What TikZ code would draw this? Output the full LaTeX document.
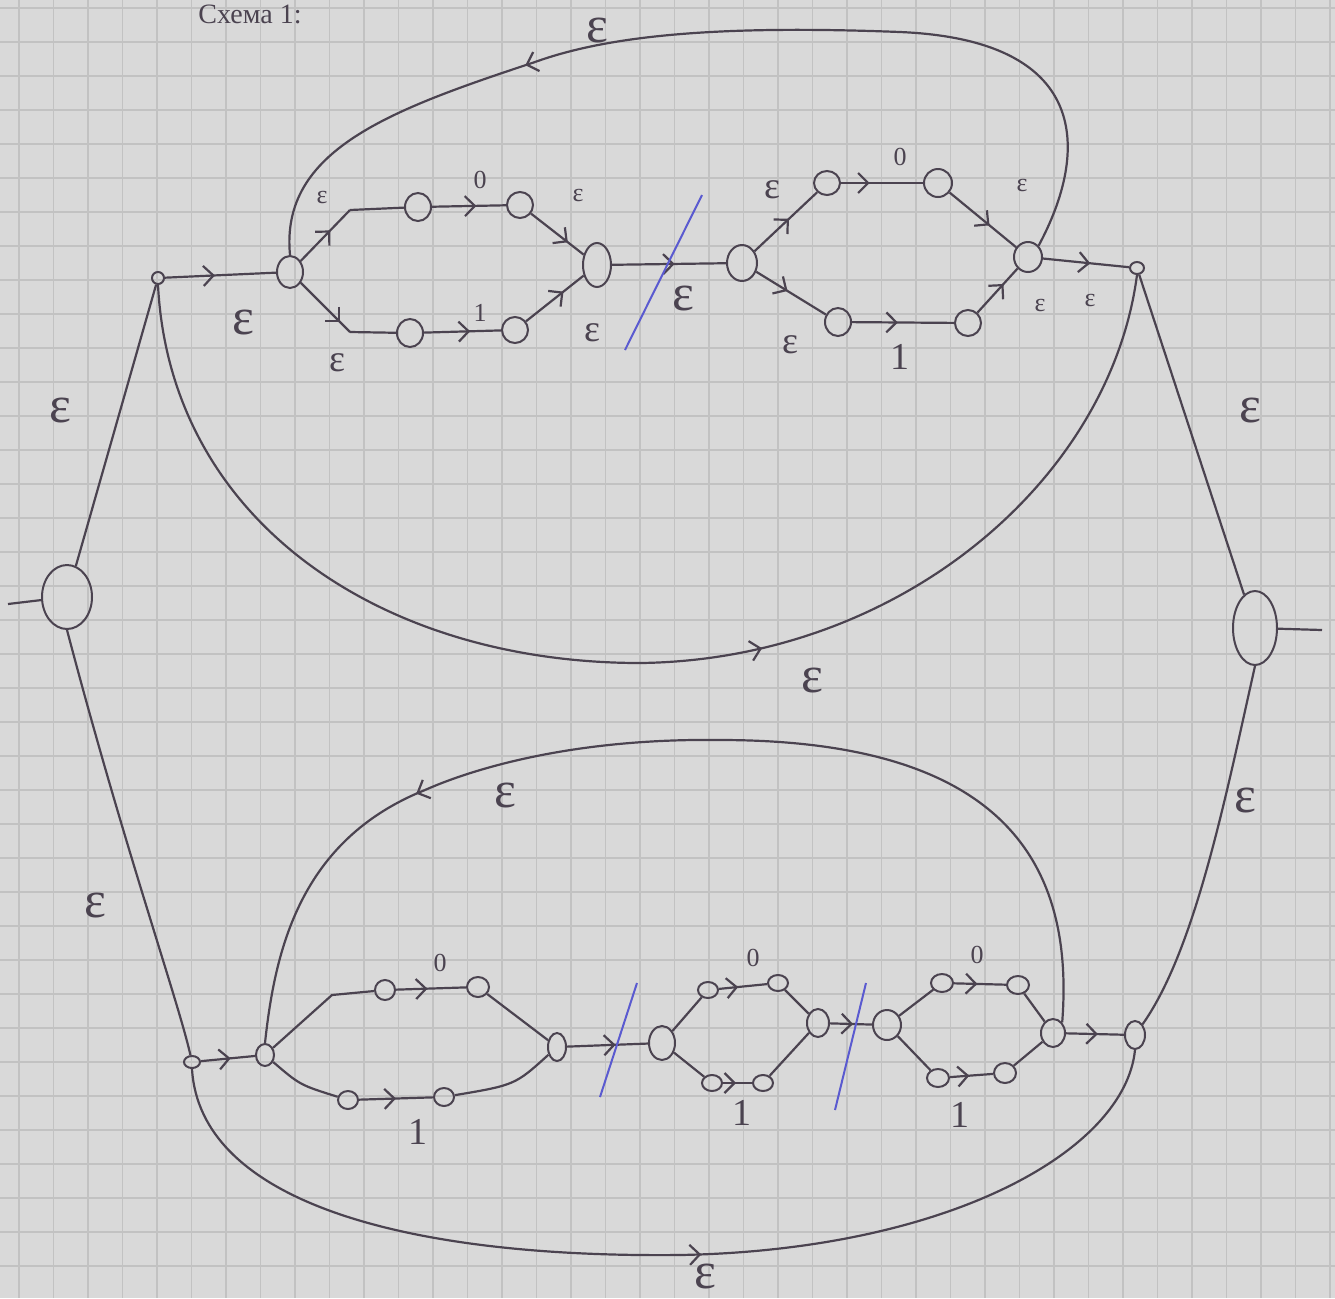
\documentclass[tikz,border=0pt]{standalone}
\usepackage{fontspec}
\setmainfont{Liberation Serif}
\usetikzlibrary{shapes.geometric,arrows.meta,decorations.markings}
\definecolor{ink}{HTML}{4B4350}
\definecolor{paper}{HTML}{D9D9D9}
\definecolor{gridc}{HTML}{C2C2C2}
\definecolor{bluepen}{HTML}{5A5AD0}
\begin{document}
\begin{tikzpicture}[x=0.5pt,y=-0.5pt,
  st/.style 2 args={ellipse,draw=ink,line width=1pt,inner sep=0pt,minimum width=#1pt,minimum height=#2pt},
  ed/.style={draw=ink,line width=1.1pt},
  ar/.style={ed,postaction={decorate},decoration={markings,mark=at position #1 with {\arrow{Straight Barb[length=5pt,width=10pt,line width=1.1pt]}}}},
  ar/.default=0.55,
  lbb/.style={text=ink,inner sep=0pt,font=\fontsize{26}{26}\selectfont},
  lbm/.style={text=ink,inner sep=0pt,font=\fontsize{19}{19}\selectfont},
  lbs/.style={text=ink,inner sep=0pt,font=\fontsize{13}{13}\selectfont},
  slash/.style={draw=bluepen,line width=1pt}]
\fill[paper] (0,0) rectangle (1335,1298);
\useasboundingbox (0,0) rectangle (1335,1298);
\foreach \x in {19,53.5,...,1335} \draw[gridc,line width=0.6pt] (\x,0) -- (\x,1298);
\foreach \y in {8,42,...,1298} \draw[gridc,line width=0.6pt] (0,\y) -- (1335,\y);

\node[text=ink,inner sep=0pt,font=\fontsize{14}{14}\selectfont] (title) at (250,14) {Схема 1:};

% big states
\node[st={25}{32}] (L) at (67,597) {};
\node[st={22}{37}] (R) at (1255,628) {};
\coordinate (Lin) at (8,604);
\coordinate (Rout) at (1322,630);
\draw[ed] (Lin) -- (L);
\draw[ed] (R) -- (Rout);

% top section nodes
\node[st={6}{6}] (T0) at (158,278) {};
\node[st={13}{16}] (T1) at (290,272) {};
\node[st={13}{14}] (T2) at (418,207) {};
\node[st={13}{13}] (T3) at (520,205) {};
\node[st={14}{22}] (T4) at (597,265) {};
\node[st={13}{14}] (T5) at (410,333) {};
\node[st={13}{13}] (T6) at (515,330) {};
\node[st={15}{18}] (T7) at (742,263) {};
\node[st={13}{12}] (T8) at (827,183) {};
\node[st={14}{14}] (T9) at (938,183) {};
\node[st={14}{15}] (T10) at (1028,257) {};
\node[st={13}{14}] (T11) at (838,322) {};
\node[st={13}{13}] (T12) at (968,323) {};
\node[st={7}{6}] (T13) at (1137,268) {};
\coordinate (c1) at (350,210);
\coordinate (c2) at (350,332);

\draw[ed] (L) -- (T0);
\draw[ar=0.45] (T0) -- (T1);
\draw[ar=0.6] (T1) -- (c1);
\draw[ed] (c1) -- (T2);
\draw[ar=0.6] (T2) -- (T3);
\draw[ar=0.7] (T3) -- (T4);
\draw[ar=0.8] (T1) -- (c2);
\draw[ed] (c2) -- (T5);
\draw[ar=0.6] (T5) -- (T6);
\draw[ar=0.65] (T6) -- (T4);
\draw[ar=0.55] (T4) -- (T7);
\draw[ar=0.55] (T7) -- (T8);
\draw[ar=0.35] (T8) -- (T9);
\draw[ar=0.6] (T9) -- (T10);
\draw[ar=0.45] (T7) -- (T11);
\draw[ar=0.45] (T11) -- (T12);
\draw[ar=0.65] (T12) -- (T10);
\draw[ar=0.55] (T10) -- (T13);
\draw[ed] (T13) -- (R);

% top loop
\coordinate (tl1) at (900,32);
\coordinate (tl2) at (535,62);
\draw[ed] (T10.north east) .. controls (1090,150) and (1090,40) .. (tl1) .. controls (720,25) and (610,35) .. (tl2);
\draw[ar=0.03] (tl2) .. controls (390,110) and (280,150) .. (T1.north);
% top bypass
\coordinate (bp1) at (640,663);
\draw[ed] (T0.south) .. controls (170,520) and (380,663) .. (bp1);
\draw[ar=0.18] (bp1) .. controls (900,660) and (1110,480) .. (T13.south);

% blue slash top
\coordinate (s1a) at (625,350); \coordinate (s1b) at (702,195);
\draw[slash] (s1a) -- (s1b);

% top labels
\node[lbb] (e1) at (60,410) {ε};
\node[lbb] (e2) at (243,322) {ε};
\node[lbs] (e3) at (322,197) {ε};
\node[lbs] (n1) at (480,180) {0};
\node[lbs] (e4) at (578,195) {ε};
\node[lbm] (e5) at (337,363) {ε};
\node[lbs] (n2) at (480,313) {1};
\node[lbm] (e6) at (592,333) {ε};
\node[lbb] (e7) at (683,298) {ε};
\node[lbm] (e8) at (772,190) {ε};
\node[lbs] (n3) at (900,157) {0};
\node[lbs] (e9) at (1022,185) {ε};
\node[lbm] (e10) at (790,345) {ε};
\node[lbm] (n4) at (900,357) {1};
\node[lbs] (e11) at (1040,305) {ε};
\node[lbs] (e12) at (1090,300) {ε};
\node[lbb] (e13) at (1250,410) {ε};
\node[lbb] (e14) at (597,30) {ε};
\node[lbb] (e15) at (812,680) {ε};

% bottom section nodes
\node[st={8}{6}] (B0) at (192,1062) {};
\node[st={9}{11}] (B1) at (265,1055) {};
\node[st={10}{10}] (B2) at (385,990) {};
\node[st={11}{10}] (B3) at (478,987) {};
\node[st={9}{14}] (B4) at (557,1047) {};
\node[st={10}{9}] (B5) at (348,1100) {};
\node[st={10}{9}] (B6) at (444,1097) {};
\node[st={13}{17}] (B7) at (662,1043) {};
\node[st={10}{8}] (B8) at (708,990) {};
\node[st={10}{8}] (B9) at (778,983) {};
\node[st={11}{14}] (B10) at (818,1023) {};
\node[st={10}{8}] (B11) at (712,1083) {};
\node[st={10}{8}] (B12) at (763,1083) {};
\node[st={14}{15}] (B13) at (887,1025) {};
\node[st={11}{9}] (B14) at (942,983) {};
\node[st={11}{9}] (B15) at (1018,985) {};
\node[st={11}{9}] (B17) at (938,1078) {};
\node[st={11}{10}] (B18) at (1005,1073) {};
\node[st={12}{14}] (B16) at (1053,1033) {};
\node[st={10}{14}] (B19) at (1135,1035) {};
\coordinate (c3) at (332,995);

\draw[ed] (L.south) .. controls (125,850) and (178,1000) .. (B0);
\draw[ar=0.55] (B0) -- (B1);
\draw[ed] (B1) -- (c3) -- (B2);
\draw[ar=0.45] (B2) -- (B3);
\draw[ed] (B3) -- (B4);
\draw[ed] (B1) .. controls (300,1085) .. (B5);
\draw[ar=0.5] (B5) -- (B6);
\draw[ed] (B6) .. controls (515,1085) .. (B4);
\draw[ar=0.6] (B4) -- (B7);
\draw[ed] (B7) -- (B8);
\draw[ar=0.4] (B8) -- (B9);
\draw[ed] (B9) -- (B10);
\draw[ed] (B7) -- (B11);
\draw[ar=0.45] (B11) -- (B12);
\draw[ed] (B12) -- (B10);
\draw[ar=0.55] (B10) -- (B13);
\draw[ed] (B13) -- (B14);
\draw[ar=0.45] (B14) -- (B15);
\draw[ed] (B15) -- (B16);
\draw[ed] (B13) -- (B17);
\draw[ar=0.45] (B17) -- (B18);
\draw[ed] (B18) -- (B16);
\draw[ar=0.55] (B16) -- (B19);
\draw[ed] (B19) .. controls (1195,950) and (1225,800) .. (R.south);

% bottom loop
\coordinate (bl1) at (720,740);
\coordinate (bl2) at (425,790);
\draw[ed] (B16.north east) .. controls (1075,860) and (1000,740) .. (bl1) .. controls (570,738) and (470,770) .. (bl2);
\draw[ar=0.03] (bl2) .. controls (300,840) and (275,950) .. (B1.north);
% bottom bypass
\coordinate (bb1) at (680,1255);
\draw[ed] (B0.south) .. controls (200,1200) and (400,1258) .. (bb1);
\draw[ar=0.04] (bb1) .. controls (950,1250) and (1125,1150) .. (B19.south);

% blue slashes bottom
\coordinate (s2a) at (600,1097); \coordinate (s2b) at (637,983);
\draw[slash] (s2a) -- (s2b);
\coordinate (s3a) at (835,1110); \coordinate (s3b) at (866,983);
\draw[slash] (s3a) -- (s3b);

% bottom labels
\node[lbb] (e16) at (95,905) {ε};
\node[lbs] (n5) at (440,963) {0};
\node[lbm] (n6) at (418,1132) {1};
\node[lbs] (n7) at (753,958) {0};
\node[lbm] (n8) at (742,1113) {1};
\node[lbs] (n9) at (977,955) {0};
\node[lbm] (n10) at (960,1115) {1};
\node[lbb] (e17) at (505,795) {ε};
\node[lbb] (e18) at (1245,800) {ε};
\node[lbb] (e19) at (705,1276) {ε};
\end{tikzpicture}
\end{document}
